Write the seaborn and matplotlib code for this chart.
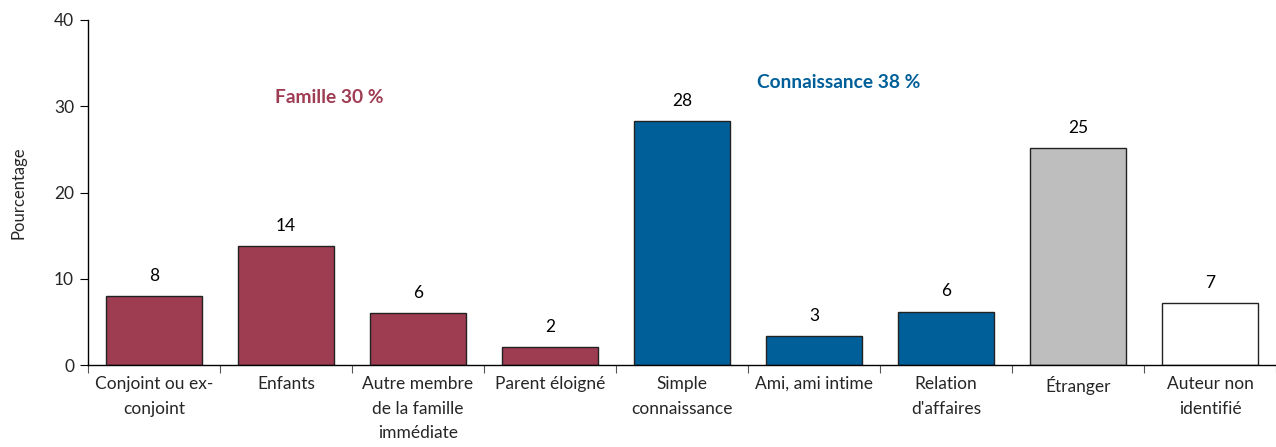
import matplotlib
matplotlib.use("Agg")
import matplotlib.pyplot as plt
import seaborn as sns
import pandas as pd

categories = ["Conjoint ou ex-\nconjoint", "Enfants", "Autre membre\nde la famille\nimmédiate",
              "Parent éloigné", "Simple\nconnaissance", "Ami, ami intime",
              "Relation\nd'affaires", "Étranger", "Auteur non\nidentifié"]
values = [8.0, 13.8, 6.0, 2.1, 28.3, 3.4, 6.2, 25.2, 7.2]
labels = ["8", "14", "6", "2", "28", "3", "6", "25", "7"]
colors = ["#9E3C52", "#9E3C52", "#9E3C52", "#9E3C52",
          "#005F99", "#005F99", "#005F99", "#BEBEBE", "#FFFFFF"]
yticks = [0, 10, 20, 30, 40]

sns.set_style("white")
plt.rcParams['font.family'] = ['Lato', 'DejaVu Sans']

df = pd.DataFrame({"cat": categories, "val": values})
fig = plt.figure(figsize=(12.76, 4.47), dpi=100)
ax = fig.add_axes([88/1276, 82/447, 1 - 88/1276, 345/447])
sns.barplot(data=df, x="cat", y="val", hue="cat", palette=colors, legend=False,
            width=0.72, edgecolor="#222222", linewidth=1.0, saturation=1, ax=ax)

for p, lab in zip(ax.patches, labels):
    ax.text(p.get_x() + p.get_width() / 2, p.get_height() + 1.4, lab,
            ha="center", va="bottom", fontsize=12.5, color="black")

ax.set_xlim(-0.5, 8.5)
ax.set_ylim(0, 40)
ax.set_yticks(yticks)
ax.set_ylabel("Pourcentage", fontsize=12, labelpad=20)
ax.set_xlabel("")
ax.set_xticks([i + 0.5 for i in range(-1, 9)], minor=False)
ax.set_xticklabels([])
ax.set_xticks(range(9), minor=True)
ax.set_xticklabels(categories, minor=True, fontsize=12.5, linespacing=1.65)
ax.tick_params(axis="x", which="major", bottom=True, direction="out", length=6, width=0.8, color="#555555")
ax.tick_params(axis="x", which="minor", bottom=False, length=0, pad=8)
ax.tick_params(axis="y", left=True, direction="out", length=6, width=0.8, color="black",
               labelsize=12.5, pad=4)
for lbl in ax.get_xticklabels(minor=True):
    lbl.set_verticalalignment("top")
    lbl.set_horizontalalignment("center")

sns.despine(ax=ax, top=True, right=True)
ax.spines["left"].set_color("black")
ax.spines["bottom"].set_color("black")
ax.spines["left"].set_linewidth(1.0)
ax.spines["bottom"].set_linewidth(1.0)

ax.text(1.33, 30.96, "Famille 30 %", ha="center", va="center", fontsize=13.8,
        fontweight="bold", color="#9E3C52")
ax.text(5.19, 32.7, "Connaissance 38 %", ha="center", va="center", fontsize=13.8,
        fontweight="bold", color="#005F99")

fig.savefig("out.png", dpi=100)
